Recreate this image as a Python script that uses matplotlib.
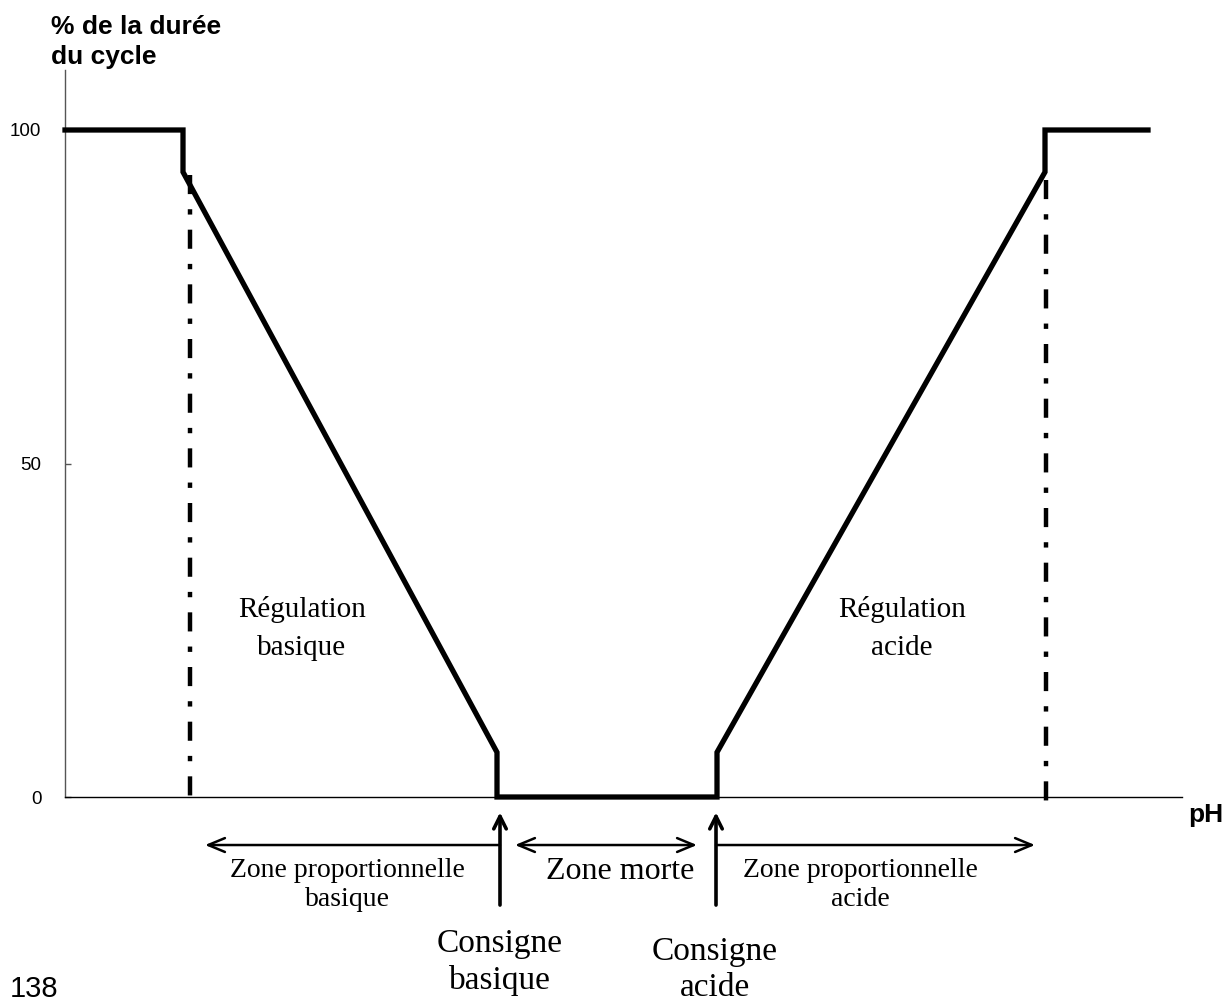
import matplotlib.pyplot as plt

# pH axis in arbitrary units, y in % of cycle duration
curve_x = [0, 1.18, 1.18, 4.32, 4.32, 6.52, 6.52, 9.80, 9.80, 10.83]
curve_y = [100, 100, 93.7, 6.7, 0, 0, 6.7, 93.7, 100, 100]

limit_x = [1.25, 9.81]          # dash-dot limits of the proportional zones
limit_top = [93.3, 92.5]
limit_bottom = [-1.7, -2.3]

consigne_x = [4.35, 6.51]        # set points
y_ticks = [0, 50, 100]
y_ticklabels = ["0", "50", "100"]

serif = "Liberation Serif"
sans = "Liberation Sans"

fig = plt.figure(figsize=(12.24, 9.98), dpi=100)
W, H = 1224, 998
ax = fig.add_axes([65 / W, 1 - 797 / H, (1182 - 65) / W, (797 - 70) / H])
ax.set_xlim(0, 11.17)
ax.set_ylim(0, (797 - 70) / 6.67)

for s in ["top", "right"]:
    ax.spines[s].set_visible(False)
ax.spines["left"].set_color("#555555")
ax.spines["left"].set_linewidth(1.0)
ax.spines["bottom"].set_color("black")
ax.spines["bottom"].set_linewidth(1.0)

ax.set_xticks([])
ax.set_yticks(y_ticks)
ax.set_yticklabels(y_ticklabels, fontfamily=sans, fontsize=13.5)
ax.tick_params(axis="y", direction="in", length=4, width=1, color="#555555", pad=17)

ax.plot(curve_x, curve_y, color="black", lw=3.8, solid_joinstyle="miter",
        clip_on=False, zorder=3)

for x, t, b in zip(limit_x, limit_top, limit_bottom):
    ax.plot([x, x], [t, b], color="black", lw=3.2, clip_on=False,
            dashes=(4.3, 3.4, 1.2, 3.4), dash_capstyle="butt")

# horizontal zone arrows
arrow_y = -7.2
hkw = dict(arrowstyle="->,head_length=1.2,head_width=0.5", lw=1.8, color="black",
           shrinkA=0, shrinkB=0)
ax.annotate("", xy=(1.40, arrow_y), xytext=(consigne_x[0], arrow_y),
            arrowprops=hkw, annotation_clip=False)
ax.annotate("", xy=(6.32, arrow_y), xytext=(4.50, arrow_y),
            arrowprops=dict(hkw, arrowstyle="<->,head_length=1.2,head_width=0.5"),
            annotation_clip=False)
ax.annotate("", xy=(9.70, arrow_y), xytext=(consigne_x[1], arrow_y),
            arrowprops=hkw, annotation_clip=False)

# vertical set point arrows
for x in consigne_x:
    ax.annotate("", xy=(x, -2.3), xytext=(x, -16.2),
                arrowprops=dict(arrowstyle="->,head_length=0.9,head_width=0.45",
                                lw=2.6, color="black", shrinkA=0, shrinkB=0),
                annotation_clip=False)

txt = dict(ha="center", va="center", fontfamily=serif, clip_on=False)
ax.text(2.82, -13.2, "Zone proportionnelle\nbasique", fontsize=20,
        linespacing=1.25, **txt)
ax.text(5.55, -11.2, "Zone morte", fontsize=23, **txt)
ax.text(7.95, -13.2, "Zone proportionnelle\nacide", fontsize=20,
        linespacing=1.25, **txt)
ax.text(4.35, -24.8, "Consigne\nbasique", fontsize=24, linespacing=1.25, **txt)
ax.text(6.50, -25.9, "Consigne\nacide", fontsize=24, linespacing=1.25, **txt)
ax.text(2.37, 25.3, "Régulation\nbasique", fontsize=21, linespacing=1.6, **txt)
ax.text(8.37, 25.3, "Régulation\nacide", fontsize=21, linespacing=1.6, **txt)

fig.text(51 / W, 1 - 42 / H, "% de la durée\ndu cycle", fontfamily=sans,
         fontweight="bold", fontsize=19, va="center", ha="left", linespacing=1.3)
fig.text(1188 / W, 1 - 815 / H, "pH", fontfamily=sans, fontweight="bold",
         fontsize=19, va="center", ha="left")
fig.text(10 / W, 1 - 975 / H, "138", fontfamily=sans, fontsize=21,
         va="top", ha="left")

fig.savefig("out.png", dpi=100)
